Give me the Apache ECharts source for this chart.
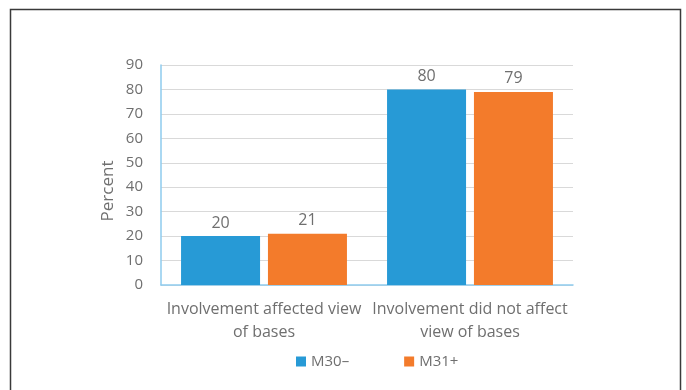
<!DOCTYPE html>
<html>
<head>
<meta charset="utf-8">
<script src="https://cdn.jsdelivr.net/npm/echarts@6/dist/echarts.min.js"></script>
<style>
  html, body { margin: 0; padding: 0; background: #ffffff; }
  #chart { width: 686px; height: 390px; }
</style>
</head>
<body>
<div id="chart"></div>
<script>
// Survey responses by cohort
const categories = ['Involvement affected view\nof bases', 'Involvement did not affect\nview of bases'];
const seriesNames = ['M30\u2013', 'M31+'];
const m30Values = [20, 80];
const m31Values = [21, 79];
const yTicks = { min: 0, max: 90, interval: 10 };

const FONT = '"Open Sans", "Liberation Sans", sans-serif';
const TEXT_GREY = '#6f6f6f';
const BLUE = '#279ad6';
const ORANGE = '#f37b2b';
const AXIS_BLUE = '#8ecbee';

const chart = echarts.init(document.getElementById('chart'));
chart.setOption({
  backgroundColor: '#ffffff',
  animation: false,
  textStyle: { fontFamily: FONT },
  graphic: [
    {
      type: 'rect',
      shape: { x: 10.5, y: 9.5, width: 670, height: 400 },
      style: { fill: 'none', stroke: '#3a3a3a', lineWidth: 1.5 },
      silent: true
    },
    {
      type: 'text',
      x: 108, y: 191,
      rotation: Math.PI / 2,
      style: {
        text: 'Percent',
        fill: TEXT_GREY,
        font: '17px ' + FONT,
        align: 'center',
        verticalAlign: 'middle'
      }
    }
  ],
  legend: {
    data: seriesNames,
    left: 291,
    top: 349,
    itemWidth: 10,
    itemHeight: 10,
    itemGap: 55,
    icon: 'rect',
    textStyle: { color: TEXT_GREY, fontSize: 15, fontFamily: FONT }
  },
  grid: { left: 161, right: 113, top: 65, bottom: 105, containLabel: false },
  xAxis: {
    type: 'category',
    data: categories,
    axisTick: { show: false },
    axisLine: { lineStyle: { color: AXIS_BLUE, width: 1.5 } },
    axisLabel: {
      color: TEXT_GREY,
      fontSize: 16,
      fontFamily: FONT,
      lineHeight: 23,
      margin: 13,
      interval: 0
    }
  },
  yAxis: {
    type: 'value',
    min: yTicks.min,
    max: yTicks.max,
    interval: yTicks.interval,
    axisLine: { show: true, lineStyle: { color: AXIS_BLUE, width: 1.5 } },
    axisTick: { show: false },
    splitLine: { lineStyle: { color: '#d9d9d9', width: 1 } },
    axisLabel: { color: TEXT_GREY, fontSize: 15, fontFamily: FONT, margin: 18 }
  },
  series: [
    {
      name: seriesNames[0],
      type: 'bar',
      data: m30Values,
      barWidth: 79,
      barGap: '10%',
      itemStyle: { color: BLUE },
      label: { show: true, position: 'top', distance: 5, color: TEXT_GREY, fontSize: 16, fontFamily: FONT }
    },
    {
      name: seriesNames[1],
      type: 'bar',
      data: m31Values,
      barWidth: 79,
      barGap: '10%',
      itemStyle: { color: ORANGE },
      label: { show: true, position: 'top', distance: 5, color: TEXT_GREY, fontSize: 16, fontFamily: FONT }
    }
  ]
});
</script>
</body>
</html>
